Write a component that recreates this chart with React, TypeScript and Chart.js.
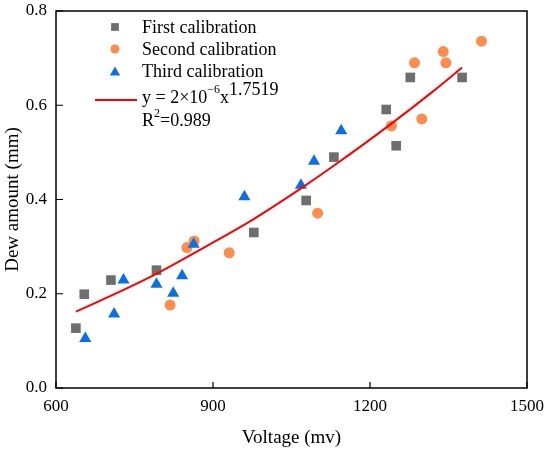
import { useEffect, useRef } from "react";
import { Chart, registerables } from "chart.js";
import { drawPoint } from "chart.js/helpers";

Chart.register(...registerables);

// First calibration (grey squares)
const firstX = [638, 654, 705, 792, 978, 1078, 1131, 1231, 1250, 1277, 1376];
const firstY = [0.127, 0.199, 0.229, 0.25, 0.33, 0.398, 0.49, 0.591, 0.514, 0.659, 0.659];

// Second calibration (orange circles)
const secondX = [818, 850, 864, 931, 1100, 1241, 1299, 1285, 1340, 1345, 1413];
const secondY = [0.176, 0.298, 0.312, 0.287, 0.371, 0.556, 0.571, 0.69, 0.714, 0.69, 0.736];

// Third calibration (blue triangles)
const thirdX = [656, 711, 729, 792, 824, 841, 863, 960, 1068, 1093, 1145];
const thirdY = [0.105, 0.157, 0.229, 0.22, 0.201, 0.238, 0.305, 0.406, 0.43, 0.481, 0.546];

// fitted power curve
const fitX = [638, 690, 786, 881, 977, 1066, 1130, 1241, 1321, 1376];
const fitY = [0.162, 0.188, 0.239, 0.297, 0.358, 0.422, 0.471, 0.561, 0.63, 0.68];

const xTicks = [600, 900, 1200, 1500];
const yTicks = [0, 0.2, 0.4, 0.6, 0.8];

const GREY = "#6e6e6e";
const ORANGE = "#fd8d4f";
const BLUE = "#0e6fe0";
const RED = "#ff0000";
const FONT = "'Liberation Serif', 'Times New Roman', serif";

const zip = (xs: number[], ys: number[]) => xs.map((x, i) => ({ x, y: ys[i] }));

// box around the plot + inward tick marks
const framePlugin = {
  id: "frame",
  afterDraw(chart: any) {
    const { ctx, chartArea: a, scales } = chart;
    ctx.save();
    ctx.strokeStyle = "#000";
    ctx.lineWidth = 1.5;
    ctx.strokeRect(a.left, a.top, a.right - a.left, a.bottom - a.top);
    ctx.lineWidth = 1.2;
    ctx.beginPath();
    xTicks.forEach((v) => {
      const px = scales.x.getPixelForValue(v);
      ctx.moveTo(px, a.bottom);
      ctx.lineTo(px, a.bottom - 6);
    });
    yTicks.forEach((v) => {
      const py = scales.y.getPixelForValue(v);
      ctx.moveTo(a.left, py);
      ctx.lineTo(a.left + 7, py);
    });
    ctx.stroke();
    ctx.restore();
  },
};

const legendPlugin = {
  id: "calLegend",
  afterDraw(chart: any) {
    const { ctx, chartArea: a } = chart;
    const mx = a.left + 59;
    const tx = a.left + 86;
    ctx.save();
    ctx.textBaseline = "middle";
    ctx.textAlign = "left";
    ctx.fillStyle = "#000";
    ctx.font = `18px ${FONT}`;

    const rows = [
      { style: "rect", color: GREY, r: 5.5, label: "First calibration" },
      { style: "circle", color: ORANGE, r: 4.5, label: "Second calibration" },
      { style: "triangle", color: BLUE, r: 6, label: "Third calibration" },
    ];
    rows.forEach((row, i) => {
      const y = a.top + 16 + i * 22;
      ctx.fillStyle = row.color;
      ctx.strokeStyle = row.color;
      drawPoint(ctx, { pointStyle: row.style, radius: row.r, borderWidth: 0 } as any, mx, row.style === "triangle" ? y + 1.5 : y);
      ctx.fillStyle = "#000";
      ctx.fillText(row.label, tx, y + 1);
    });

    const fy = a.top + 88;
    ctx.strokeStyle = RED;
    ctx.lineWidth = 2;
    ctx.beginPath();
    ctx.moveTo(a.left + 39, fy + 1);
    ctx.lineTo(a.left + 81, fy + 1);
    ctx.stroke();

    ctx.fillStyle = "#000";
    let x = tx;
    const main = "y = 2\u00d710";
    ctx.fillText(main, x, fy - 1);
    x += ctx.measureText(main).width;
    ctx.font = `12px ${FONT}`;
    ctx.fillText("\u22126", x, fy - 9);
    x += ctx.measureText("\u22126").width;
    ctx.font = `18px ${FONT}`;
    ctx.fillText("x", x, fy - 1);
    x += ctx.measureText("x").width;
    ctx.fillText("1.7519", x, fy - 9);

    const ry = a.top + 110;
    x = tx;
    ctx.fillText("R", x, ry);
    x += ctx.measureText("R").width;
    ctx.font = `12px ${FONT}`;
    ctx.fillText("2", x, ry - 7);
    x += ctx.measureText("2").width;
    ctx.font = `18px ${FONT}`;
    ctx.fillText("=0.989", x, ry);
    ctx.restore();
  },
};

export default function App() {
  const canvasRef = useRef<HTMLCanvasElement>(null);

  useEffect(() => {
    document.body.style.margin = "0";
    if (!canvasRef.current) return;
    const chart = new Chart(canvasRef.current, {
      type: "scatter",
      data: {
        datasets: [
          {
            type: "line",
            label: "fit",
            data: zip(fitX, fitY),
            borderColor: RED,
            borderWidth: 2,
            pointRadius: 0,
            cubicInterpolationMode: "monotone",
            fill: false,
            order: 0,
          },
          {
            label: "First calibration",
            data: zip(firstX, firstY),
            pointStyle: "rect",
            pointRadius: 6.8,
            backgroundColor: GREY,
            borderWidth: 0,
            order: 3,
          },
          {
            label: "Second calibration",
            data: zip(secondX, secondY),
            pointStyle: "circle",
            pointRadius: 5.5,
            backgroundColor: ORANGE,
            borderWidth: 0,
            order: 2,
          },
          {
            label: "Third calibration",
            data: zip(thirdX, thirdY),
            pointStyle: "triangle",
            pointRadius: 7,
            backgroundColor: BLUE,
            borderWidth: 0,
            order: 1,
          },
        ],
      } as any,
      options: {
        animation: false,
        responsive: false,
        devicePixelRatio: 1,
        layout: { padding: { left: 0, right: 23, top: 11, bottom: 0 } },
        plugins: {
          legend: { display: false },
          tooltip: { enabled: false },
        },
        scales: {
          x: {
            type: "linear",
            min: 600,
            max: 1500,
            afterFit: (s: any) => {
              s.height = 61;
              s.paddingLeft = 0;
              s.paddingRight = 0;
            },
            afterBuildTicks: (s: any) => {
              s.ticks = xTicks.map((v) => ({ value: v }));
            },
            grid: { display: false, drawTicks: false },
            border: { display: false },
            ticks: {
              padding: 8,
              color: "#000",
              font: { family: FONT, size: 17 },
              callback: (v: any) => String(v),
            },
            title: {
              display: true,
              text: "Voltage (mv)",
              color: "#000",
              font: { family: FONT, size: 19 },
              padding: { top: 6, bottom: 0 },
            },
          },
          y: {
            type: "linear",
            min: 0,
            max: 0.8,
            afterFit: (s: any) => {
              s.width = 56;
              s.paddingTop = 0;
              s.paddingBottom = 0;
            },
            afterBuildTicks: (s: any) => {
              s.ticks = yTicks.map((v) => ({ value: v }));
            },
            grid: { display: false, drawTicks: false },
            border: { display: false },
            ticks: {
              padding: 9,
              color: "#000",
              font: { family: FONT, size: 17 },
              callback: (v: any) => Number(v).toFixed(1),
            },
            title: {
              display: true,
              text: "Dew amount (mm)",
              color: "#000",
              font: { family: FONT, size: 19 },
              padding: { top: 2, bottom: 2 },
            },
          },
        },
      } as any,
      plugins: [framePlugin, legendPlugin],
    });
    return () => {
      chart.destroy();
    };
  }, []);

  return (
    <div style={{ width: 550, height: 449, background: "#fff" }}>
      <canvas ref={canvasRef} width={550} height={449} />
    </div>
  );
}
